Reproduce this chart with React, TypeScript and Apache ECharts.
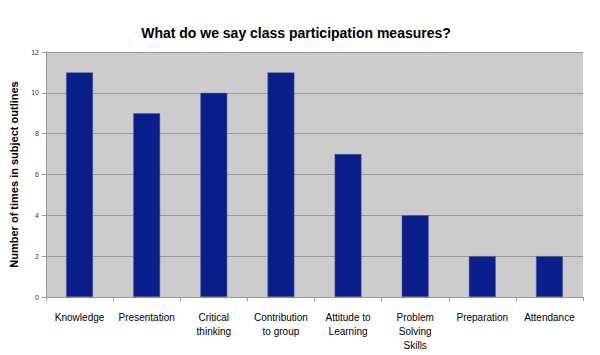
import React, { useEffect, useRef } from "react";
import * as echarts from "echarts";

const categories = [
  "Knowledge",
  "Presentation",
  "Critical\nthinking",
  "Contribution\nto group",
  "Attitude to\nLearning",
  "Problem\nSolving\nSkills",
  "Preparation",
  "Attendance",
];
const values = [11, 9, 10, 11, 7, 4, 2, 2];
const titleText = "What do we say class participation measures?";
const yAxisName = "Number of times in subject outlines";

export default function App() {
  const ref = useRef<HTMLDivElement>(null);
  useEffect(() => {
    if (!ref.current) return;
    const chart = echarts.init(ref.current, null, { renderer: "svg" });
    chart.setOption({
      animation: false,
      backgroundColor: "#ffffff",
      title: {
        text: titleText,
        left: 291,
        textAlign: "center",
        top: 21,
        textStyle: {
          fontFamily: "Liberation Sans, Arial, sans-serif",
          fontSize: 14,
          fontWeight: "bold",
          color: "#000",
        },
      },
      grid: {
        left: 46,
        right: 17,
        top: 52,
        bottom: 58,
        show: true,
        backgroundColor: "#cccccc",
        borderWidth: 0,
      },
      xAxis: {
        type: "category",
        data: categories,
        axisLine: { show: true, lineStyle: { color: "#999999", width: 1 } },
        axisTick: { show: true, alignWithLabel: false, length: 4, lineStyle: { color: "#999999" } },
        axisLabel: {
          interval: 0,
          margin: 13,
          fontFamily: "Liberation Sans, Arial, sans-serif",
          fontSize: 10,
          lineHeight: 14,
          color: "#000",
        },
      },
      yAxis: {
        type: "value",
        min: 0,
        max: 12,
        interval: 2,
        name: yAxisName,
        nameLocation: "middle",
        nameGap: 27,
        nameTextStyle: {
          fontFamily: "Liberation Sans, Arial, sans-serif",
          fontSize: 11,
          fontWeight: "bold",
          color: "#000",
        },
        axisLine: { show: true, lineStyle: { color: "#999999" } },
        axisTick: { show: true, length: 4, lineStyle: { color: "#999999" } },
        axisLabel: {
          margin: 7,
          fontFamily: "Liberation Sans, Arial, sans-serif",
          fontSize: 7,
          color: "#333",
        },
        splitLine: { show: true, lineStyle: { color: "#999999", width: 1 } },
      },
      series: [
        {
          type: "bar",
          data: values,
          barWidth: "40%",
          itemStyle: { color: "#0a1e8c", borderColor: "#5a6090", borderWidth: 0.5 },
        },
      ],
    });
    return () => chart.dispose();
  }, []);
  return <div ref={ref} style={{ width: 600, height: 355, position: "absolute", left: 0, top: 0 }} />;
}
